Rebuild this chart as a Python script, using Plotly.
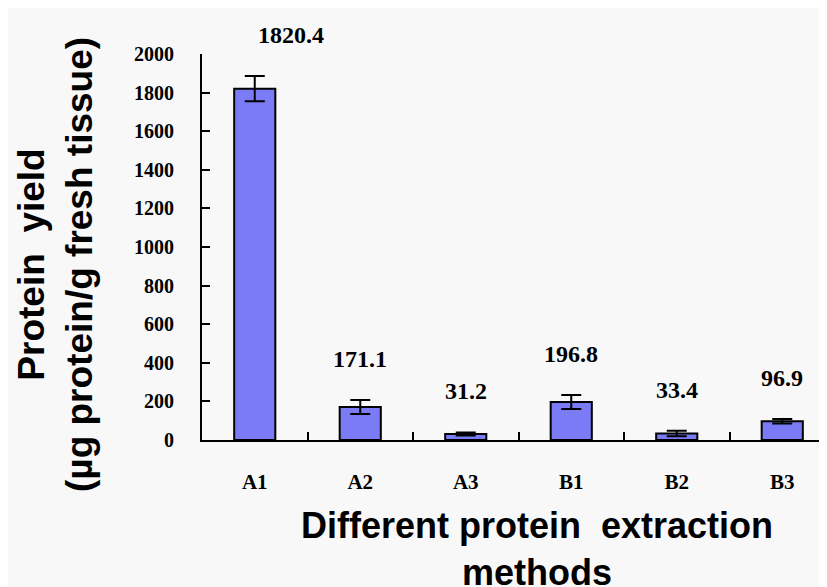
import plotly.graph_objects as go

categories = ["A1", "A2", "A3", "B1", "B2", "B3"]
values = [1820.4, 171.1, 31.2, 196.8, 33.4, 96.9]
errors = [65, 36, 8, 36, 14, 12]
value_labels = ["1820.4", "171.1", "31.2", "196.8", "33.4", "96.9"]
label_xshift = [36, 0, 0, 0, 0, 0]
y_ticks = [0, 200, 400, 600, 800, 1000, 1200, 1400, 1600, 1800, 2000]

W, H = 827, 587
ml, mr, mt, mb = 194, 0, 46, 155
pw, ph = W - ml - mr, H - mt - mb
# screen position of plot origin (page has an 8px body margin)
SX0, SY0 = 202, 440

fig = go.Figure()
fig.add_trace(go.Bar(
    x=categories, y=values,
    marker=dict(color="#7b7bf6", line=dict(color="black", width=2)),
    error_y=dict(type="data", array=errors, visible=True, color="black", thickness=2, width=10),
    width=0.39,
))

for c, v, e, lbl, dx in zip(categories, values, errors, value_labels, label_xshift):
    fig.add_annotation(x=c, y=v + e, text=lbl, showarrow=False, yanchor="middle", yshift=41,
                       xshift=dx,
                       font=dict(family="Liberation Serif", size=24, color="black", weight="bold"))

fig.add_annotation(xref="paper", yref="paper", x=(55 - SX0) / pw, y=(SY0 - 265) / ph,
                   text="Protein  yield<br>(µg protein/g fresh tissue)", textangle=-90,
                   showarrow=False, xanchor="center", yanchor="middle",
                   font=dict(family="Liberation Sans", size=37, color="black", weight="bold"))
fig.add_annotation(xref="paper", yref="paper", x=(537 - SX0) / pw, y=(SY0 - 549) / ph,
                   text="Different protein  extraction<br>methods",
                   showarrow=False, xanchor="center", yanchor="middle",
                   font=dict(family="Liberation Sans", size=36, color="black", weight="bold"))

fig.update_layout(
    width=W, height=H,
    margin=dict(l=ml, r=mr, t=mt, b=mb, pad=0),
    paper_bgcolor="#f8f8f8", plot_bgcolor="#f8f8f8",
    showlegend=False,
    xaxis=dict(showline=True, linecolor="black", linewidth=2, ticks="inside", ticklen=8,
               tickwidth=2, tickcolor="black", tickson="boundaries", showgrid=False,
               tickfont=dict(family="Liberation Serif", size=21, color="black", weight="bold"),
               ticklabelstandoff=22, range=[-0.5, 5.5]),
    yaxis=dict(showline=True, linecolor="black", linewidth=2, ticks="inside", ticklen=8,
               tickwidth=2, tickcolor="black", showgrid=False, zeroline=False,
               range=[0, 2000], tickvals=y_ticks, ticktext=[str(t) for t in y_ticks],
               tickfont=dict(family="Liberation Serif", size=20, color="black", weight="bold"),
               ticklabelstandoff=22),
)

fig.write_html("out.html")
